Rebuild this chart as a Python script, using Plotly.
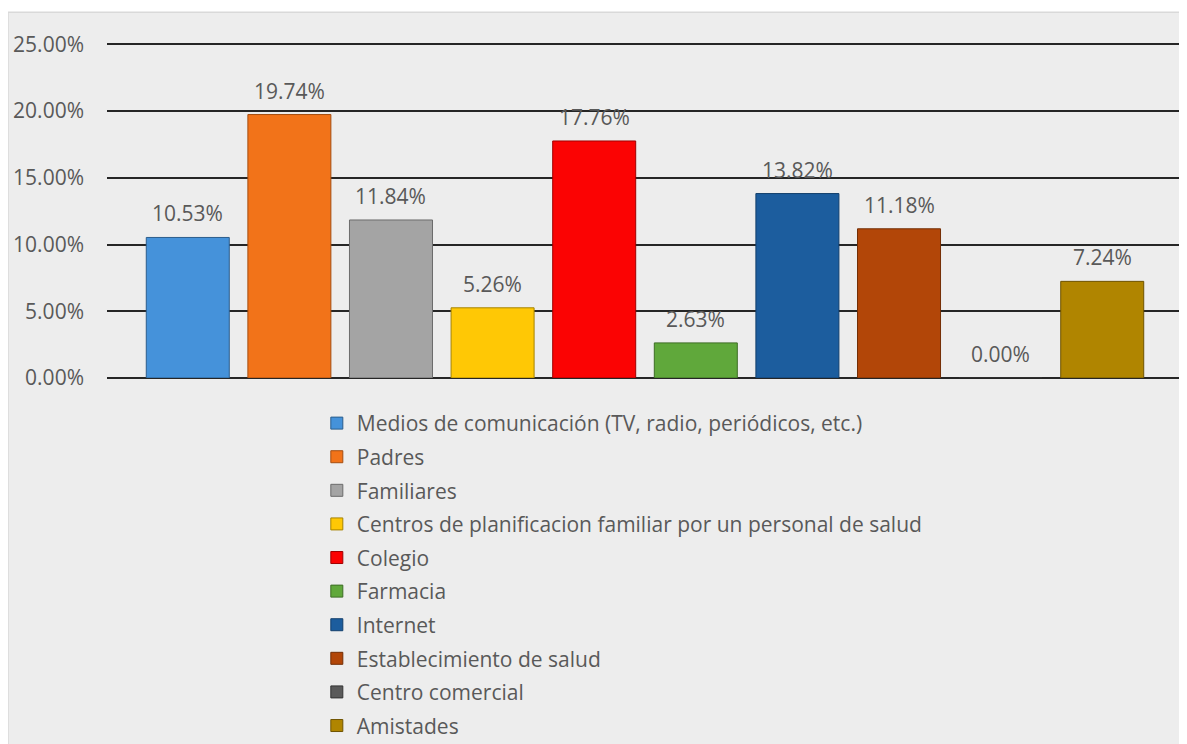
import plotly.graph_objects as go

categories = [
    "Medios de comunicación (TV, radio, periódicos, etc.)",
    "Padres",
    "Familiares",
    "Centros de planificacion familiar por un personal de salud",
    "Colegio",
    "Farmacia",
    "Internet",
    "Establecimiento de salud",
    "Centro comercial",
    "Amistades",
]
values = [0.1053, 0.1974, 0.1184, 0.0526, 0.1776, 0.0263, 0.1382, 0.1118, 0.0, 0.0724]
labels = ["10.53%", "19.74%", "11.84%", "5.26%", "17.76%", "2.63%", "13.82%", "11.18%", "0.00%", "7.24%"]
y_ticks = [0, 0.05, 0.10, 0.15, 0.20, 0.25]

fill_colors = ["#4592da", "#f27319", "#a4a4a4", "#ffc805", "#fb0303", "#60a83b",
               "#1c5d9e", "#b24608", "#5a5a5a", "#b08500"]
line_colors = ["#2b5d8c", "#a44d10", "#6b6b6b", "#a68300", "#a00000", "#3d6d25",
               "#123f6c", "#732e05", "#333333", "#6f5400"]

FONT = "Open Sans"
TXT = "#595959"

fig = go.Figure()
for i, (name, v) in enumerate(zip(categories, values)):
    fig.add_trace(go.Bar(
        x=[i], y=[v], name=name, width=0.817,
        marker=dict(color=fill_colors[i], line=dict(color=line_colors[i], width=1)),
        legendgroup=f"g{i}",
        hoverinfo="name+y",
    ))

for i, (v, t) in enumerate(zip(values, labels)):
    fig.add_annotation(x=i, y=v, text=t, showarrow=False, yanchor="middle",
                       yshift=24, font=dict(family=FONT, size=21, color=TXT))

# chart area background with border
fig.add_shape(type="rect", xref="paper", yref="paper",
              x0=-0.092, x1=1.0009, y0=-1.2, y1=1.085,
              fillcolor="#ededed", line=dict(color="#d9d9d9", width=1.5), layer="below")

fig.update_layout(
    width=1179, height=736,
    margin=dict(l=99, r=4, t=32.66, b=366, autoexpand=False),
    paper_bgcolor="white",
    plot_bgcolor="rgba(0,0,0,0)",
    barmode="overlay",
    showlegend=True,
    legend=dict(
        x=0.195, xanchor="left", y=-0.0741, yanchor="top",
        orientation="v", bgcolor="rgba(0,0,0,0)",
        font=dict(family=FONT, size=21, color=TXT),
        tracegroupgap=3.3,
    ),
    font=dict(family=FONT, size=21, color=TXT),
    xaxis=dict(range=[-0.795, 9.795], showgrid=False, zeroline=False,
               showticklabels=False, ticks="", showline=False),
    yaxis=dict(range=[0, 0.2525], tickvals=y_ticks, tickformat=".2%",
               showgrid=True, gridcolor="#262626", gridwidth=1.5,
               zeroline=True, zerolinecolor="#262626", zerolinewidth=1.5,
               showline=False, ticks="", ticklabelstandoff=22,
               tickfont=dict(family=FONT, size=21, color=TXT)),
)

fig.write_html("out.html")
